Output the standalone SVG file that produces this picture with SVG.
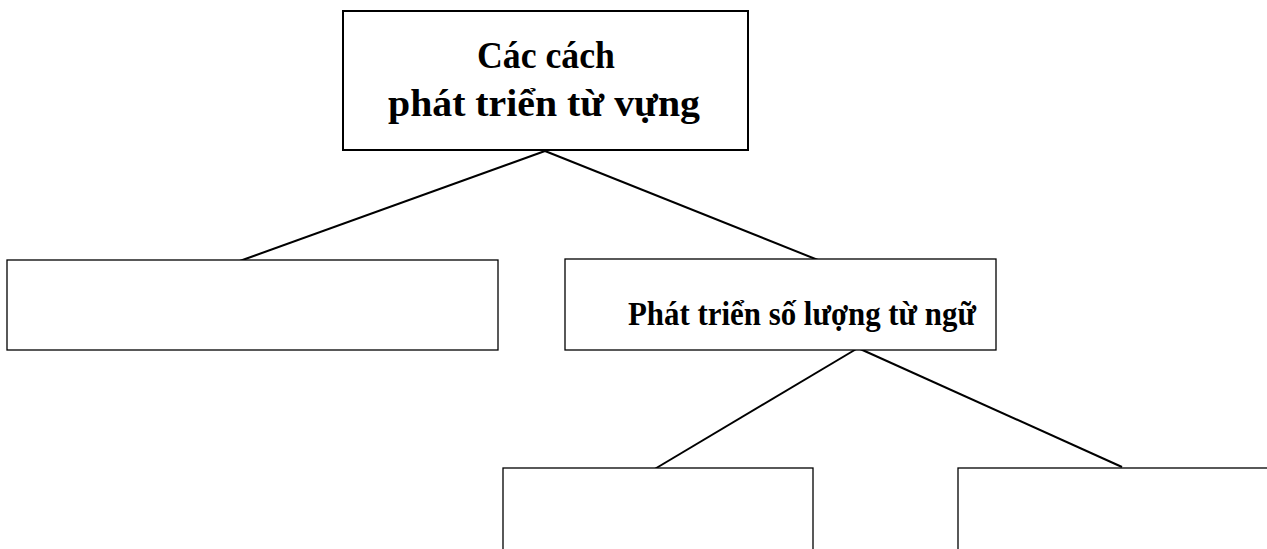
<svg xmlns="http://www.w3.org/2000/svg" width="1267" height="549" viewBox="0 0 1267 549">
<style>
.box{fill:#fff;stroke:#000;stroke-width:1.3}
.main{fill:#fff;stroke:#000;stroke-width:2}
.t{font-family:"Liberation Serif","DejaVu Serif",serif;font-weight:bold;fill:#000}
.c{stroke:#000;stroke-width:2;fill:none}
</style>
<rect width="1267" height="549" fill="#fff"/>
<g id="connectors">
<line class="c" x1="545" y1="151" x2="237" y2="262"/>
<line class="c" x1="545" y1="151" x2="818" y2="260"/>
<line class="c" x1="858" y1="348" x2="653" y2="470"/>
<line class="c" x1="858" y1="348" x2="1122" y2="467"/>
</g>
<g id="root">
<rect class="main" x="343" y="11" width="405" height="139"/>
<text class="t" x="477" y="68" font-size="37" textLength="138" lengthAdjust="spacingAndGlyphs">Các cách</text>
<text class="t" x="388" y="116" font-size="37" textLength="312" lengthAdjust="spacingAndGlyphs">phát triển từ vựng</text>
</g>
<g id="left">
<rect class="box" x="7" y="260" width="491" height="90"/>
</g>
<g id="right">
<rect class="box" x="565" y="259" width="431" height="91"/>
<text class="t" x="628" y="325" font-size="34" textLength="348" lengthAdjust="spacingAndGlyphs">Phát triển số lượng từ ngữ</text>
</g>
<g id="bottomLeft">
<rect class="box" x="503" y="468" width="310" height="100"/>
</g>
<g id="bottomRight">
<rect class="box" x="958" y="468" width="320" height="100"/>
</g>
</svg>
